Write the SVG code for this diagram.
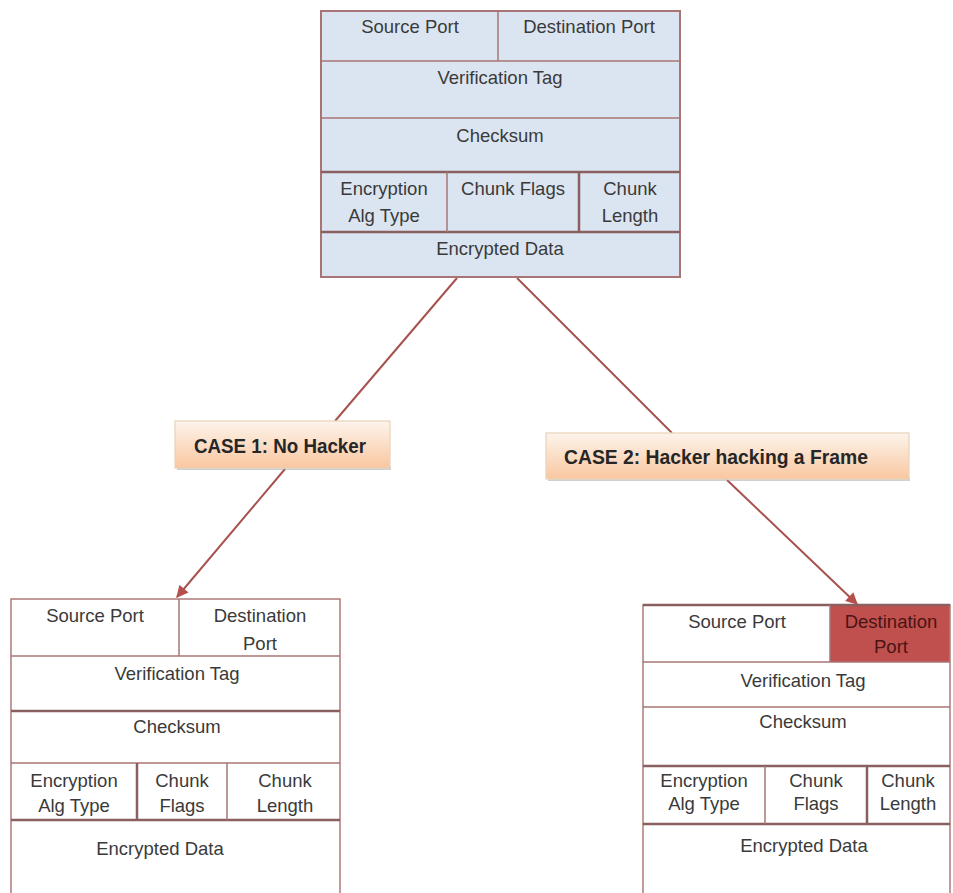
<svg xmlns="http://www.w3.org/2000/svg" width="953" height="893" viewBox="0 0 953 893">
  <defs>
    <style>
      .cell { fill: none; stroke: #b07a7a; stroke-width: 1.5; }
      .sep { stroke: #a87474; stroke-width: 1.5; }
      .sep-bold { stroke: #8a5f5f; stroke-width: 2.5; }
      .txt { font-family: "Liberation Sans", Arial, sans-serif; font-size: 18.5px; fill: #3a3a3a; text-anchor: middle; }
      .txt-hot { fill: #4a1414; }
      .case-box { fill: url(#peach); stroke: #ead2b8; stroke-width: 1.2; }
      .case-shadow { fill: #9a9a9a; opacity: 0.45; }
      .case-txt { font-family: "Liberation Sans", Arial, sans-serif; font-size: 21px; font-weight: bold; fill: #262626; }
      .link { stroke: #a8524f; stroke-width: 2; fill: none; }
    </style>
    <linearGradient id="peach" x1="0" y1="0" x2="0" y2="1">
      <stop offset="0" stop-color="#fdf4ec"/>
      <stop offset="1" stop-color="#f9c7a0"/>
    </linearGradient>
    <marker id="arrow" viewBox="0 0 10 10" refX="9" refY="5" markerWidth="13" markerHeight="12" orient="auto" markerUnits="userSpaceOnUse">
      <path d="M0,0 L10,5 L0,10 z" fill="#b5504d"/>
    </marker>
  </defs>

  <rect width="953" height="893" fill="#ffffff"/>

  <!-- connectors -->
  <g id="connectors">
    <line class="link" x1="457" y1="278" x2="335" y2="421"/>
    <line class="link" x1="517" y1="278" x2="672" y2="433"/>
    <line class="link" x1="285" y1="469" x2="177" y2="597" marker-end="url(#arrow)"/>
    <line class="link" x1="727" y1="480" x2="857" y2="604" marker-end="url(#arrow)"/>
  </g>

  <!-- original SCTP frame -->
  <g id="frame-original">
    <rect x="321" y="11" width="359" height="266" fill="#dbe5f1" stroke="#a87474" stroke-width="2"/>
    <line class="sep" x1="321" y1="61" x2="680" y2="61"/>
    <line class="sep" x1="321" y1="118" x2="680" y2="118"/>
    <line class="sep-bold" x1="321" y1="172" x2="680" y2="172"/>
    <line class="sep-bold" x1="321" y1="232" x2="680" y2="232"/>
    <line class="sep" x1="498" y1="11" x2="498" y2="61"/>
    <line class="sep" x1="447" y1="172" x2="447" y2="232"/>
    <line class="sep-bold" x1="579" y1="172" x2="579" y2="232"/>
    <text class="txt" x="410" y="33">Source Port</text>
    <text class="txt" x="589" y="33">Destination Port</text>
    <text class="txt" x="500" y="84">Verification Tag</text>
    <text class="txt" x="500" y="142">Checksum</text>
    <text class="txt" x="384" y="195">Encryption</text>
    <text class="txt" x="384" y="222">Alg Type</text>
    <text class="txt" x="513" y="195">Chunk Flags</text>
    <text class="txt" x="630" y="195">Chunk</text>
    <text class="txt" x="630" y="222">Length</text>
    <text class="txt" x="500" y="255">Encrypted Data</text>
  </g>

  <!-- case labels -->
  <g id="case1-label">
    <rect class="case-shadow" x="177" y="467" width="214" height="3"/>
    <rect class="case-box" x="175" y="421" width="215" height="47"/>
    <text class="case-txt" x="194" y="453" textLength="172" lengthAdjust="spacingAndGlyphs">CASE 1: No Hacker</text>
  </g>
  <g id="case2-label">
    <rect class="case-shadow" x="548" y="478" width="362" height="3"/>
    <rect class="case-box" x="546" y="433" width="363" height="46"/>
    <text class="case-txt" x="564" y="464" textLength="304" lengthAdjust="spacingAndGlyphs">CASE 2: Hacker hacking a Frame</text>
  </g>

  <!-- received frame, case 1 -->
  <g id="frame-case1">
    <rect class="cell" x="11" y="599" width="329" height="310"/>
    <line class="sep" x1="11" y1="656" x2="340" y2="656"/>
    <line class="sep-bold" x1="11" y1="711" x2="340" y2="711"/>
    <line class="sep" x1="11" y1="763" x2="340" y2="763"/>
    <line class="sep-bold" x1="11" y1="820" x2="340" y2="820"/>
    <line class="sep" x1="179" y1="599" x2="179" y2="656"/>
    <line class="sep-bold" x1="137" y1="763" x2="137" y2="820"/>
    <line class="sep" x1="227" y1="763" x2="227" y2="820"/>
    <text class="txt" x="95" y="622">Source Port</text>
    <text class="txt" x="260" y="622">Destination</text>
    <text class="txt" x="260" y="650">Port</text>
    <text class="txt" x="177" y="680">Verification Tag</text>
    <text class="txt" x="177" y="733">Checksum</text>
    <text class="txt" x="74" y="787">Encryption</text>
    <text class="txt" x="74" y="812">Alg Type</text>
    <text class="txt" x="182" y="787">Chunk</text>
    <text class="txt" x="182" y="812">Flags</text>
    <text class="txt" x="285" y="787">Chunk</text>
    <text class="txt" x="285" y="812">Length</text>
    <text class="txt" x="160" y="855">Encrypted Data</text>
  </g>

  <!-- received frame, case 2 (tampered destination port) -->
  <g id="frame-case2">
    <rect x="830" y="605" width="120" height="57" fill="#c0504d"/>
    <rect class="cell" x="643" y="605" width="307" height="310"/>
    <line class="sep-bold" x1="643" y1="605" x2="950" y2="605"/>
    <line class="sep" x1="643" y1="662" x2="950" y2="662"/>
    <line class="sep" x1="643" y1="707" x2="950" y2="707"/>
    <line class="sep-bold" x1="643" y1="766" x2="950" y2="766"/>
    <line class="sep-bold" x1="643" y1="824" x2="950" y2="824"/>
    <line class="sep" x1="830" y1="605" x2="830" y2="662"/>
    <line class="sep" x1="765" y1="766" x2="765" y2="824"/>
    <line class="sep-bold" x1="867" y1="766" x2="867" y2="824"/>
    <text class="txt" x="737" y="628">Source Port</text>
    <text class="txt txt-hot" x="891" y="628">Destination</text>
    <text class="txt txt-hot" x="891" y="653">Port</text>
    <text class="txt" x="803" y="687">Verification Tag</text>
    <text class="txt" x="803" y="728">Checksum</text>
    <text class="txt" x="704" y="787">Encryption</text>
    <text class="txt" x="704" y="810">Alg Type</text>
    <text class="txt" x="816" y="787">Chunk</text>
    <text class="txt" x="816" y="810">Flags</text>
    <text class="txt" x="908" y="787">Chunk</text>
    <text class="txt" x="908" y="810">Length</text>
    <text class="txt" x="804" y="852">Encrypted Data</text>
  </g>
</svg>
